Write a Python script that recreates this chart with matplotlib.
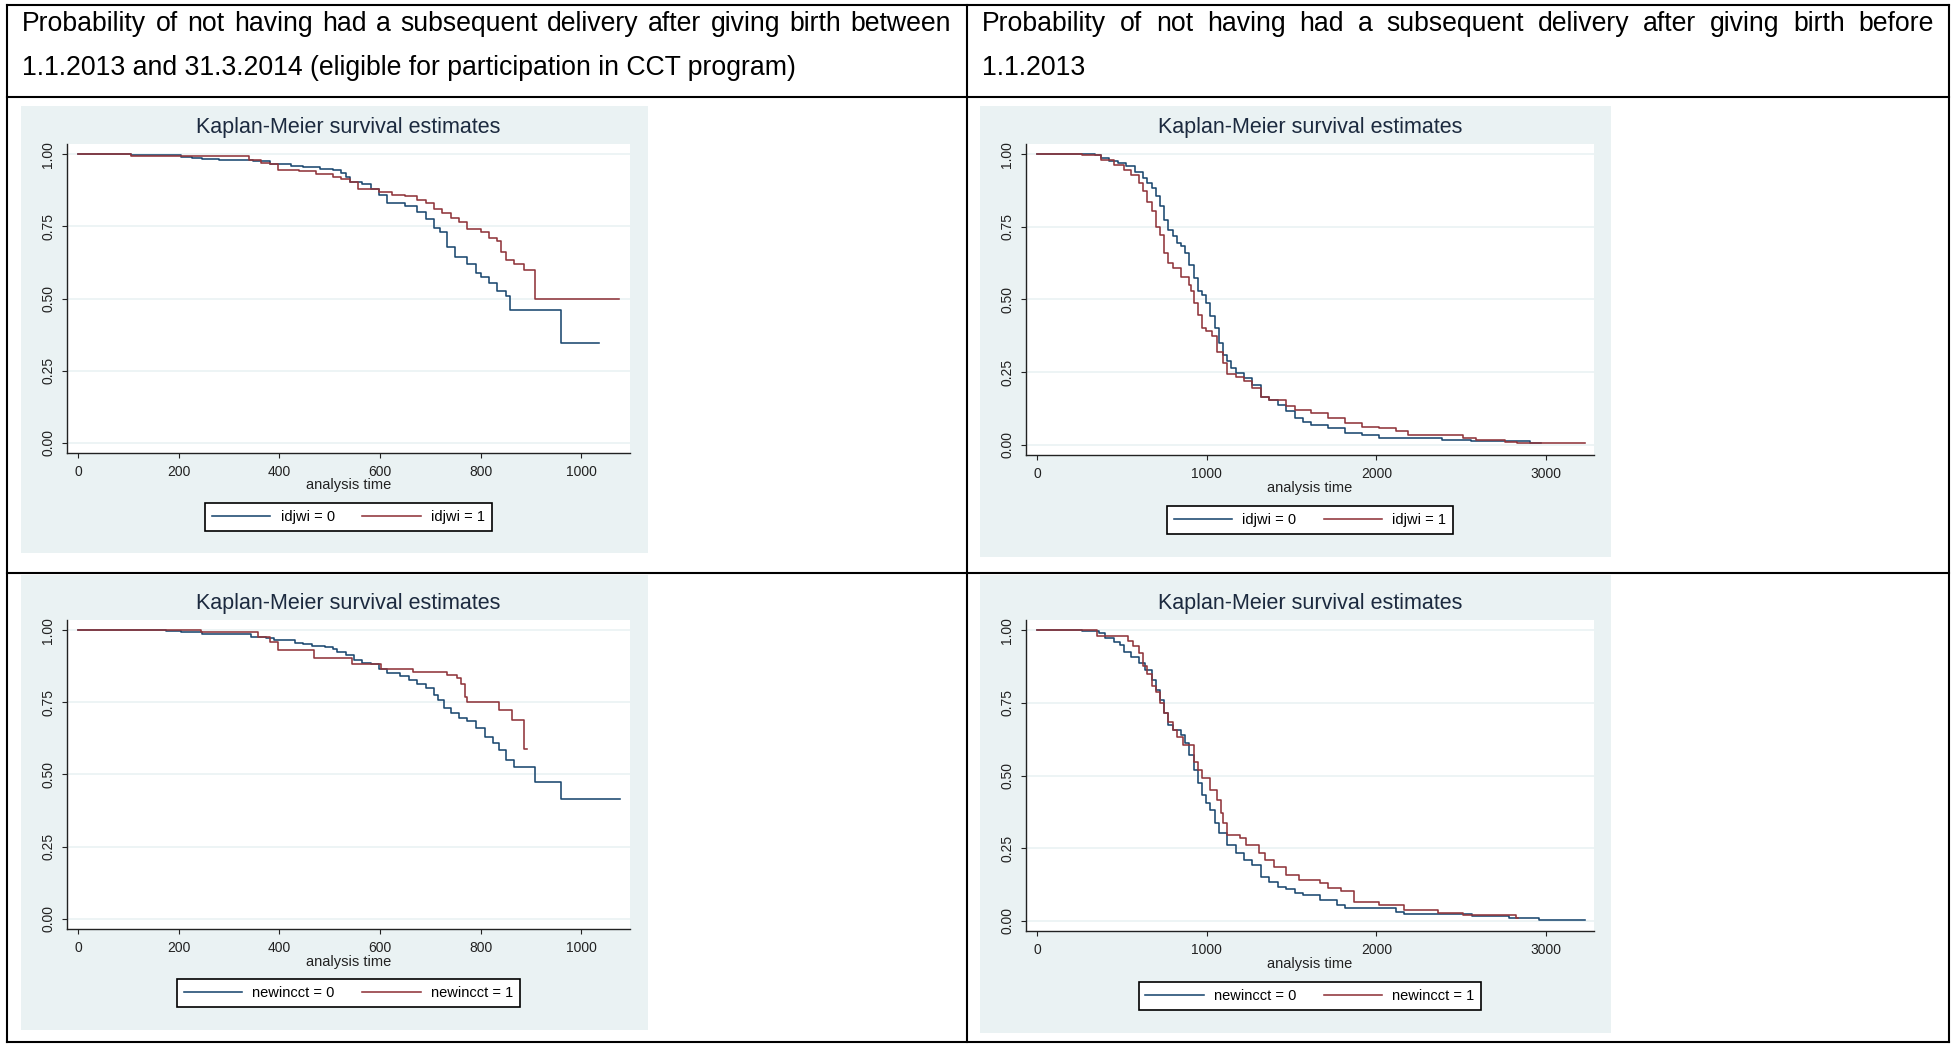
import matplotlib.pyplot as plt
from matplotlib.lines import Line2D
from matplotlib.patches import Rectangle

plt.rcParams['font.family'] = ['Liberation Sans', 'DejaVu Sans']

# Header texts of the two table columns
left_header = ["Probability of not having had a subsequent delivery after giving birth between",
               "1.1.2013 and 31.3.2014 (eligible for participation in CCT program)"]
right_header = ["Probability of not having had a subsequent delivery after giving birth before",
                "1.1.2013"]

plot_title = "Kaplan-Meier survival estimates"
x_label = "analysis time"

# Kaplan-Meier step data (time in days, survival)
# top left: idjwi, births 1.1.2013 - 31.3.2014
a_t0 = [0, 105, 205, 226, 247, 280, 347, 381, 423, 448, 481, 507, 523, 532, 540, 565, 582, 599,
        615, 649, 674, 691, 707, 720, 733, 749, 774, 791, 800, 816, 833, 850, 858, 959, 1036]
a_s0 = [1.0, .998, .99, .985, .983, .978, .975, .965, .96, .955, .95, .945, .935, .92, .905, .895,
        .88, .86, .83, .82, .80, .775, .745, .73, .68, .645, .62, .59, .575, .555, .525, .51, .46,
        .347, .347]
a_t1 = [0, 105, 339, 364, 381, 398, 440, 473, 507, 523, 540, 557, 599, 624, 649, 674, 691, 707,
        724, 741, 758, 774, 800, 816, 833, 841, 850, 867, 887, 908, 1076]
a_s1 = [1.0, .995, .98, .97, .965, .945, .94, .93, .92, .915, .905, .88, .87, .86, .855, .84, .83,
        .81, .795, .78, .765, .74, .73, .71, .70, .66, .635, .62, .60, .50, .50]

# top right: idjwi, births before 1.1.2013
b_t0 = [0, 340, 377, 427, 476, 526, 575, 625, 650, 675, 699, 724, 749, 774, 799, 823, 848, 873,
        898, 923, 947, 972, 997, 1022, 1047, 1071, 1096, 1121, 1146, 1171, 1220, 1270, 1319, 1369,
        1419, 1468, 1518, 1567, 1617, 1716, 1815, 1915, 2014, 2386, 2560, 2907, 2969]
b_s0 = [1.0, .998, .986, .975, .968, .958, .939, .917, .901, .883, .855, .82, .775, .74, .717, .694,
        .683, .659, .619, .573, .528, .516, .487, .442, .401, .35, .31, .287, .264, .247, .229, .206,
        .166, .155, .138, .115, .092, .08, .069, .057, .040, .034, .023, .017, .014, .006, .006]
b_t1 = [0, 265, 377, 451, 513, 551, 600, 625, 650, 675, 699, 724, 749, 774, 799, 848, 898, 910,
        923, 947, 972, 997, 1034, 1059, 1096, 1121, 1171, 1220, 1270, 1319, 1369, 1468, 1518, 1617,
        1716, 1815, 1915, 2014, 2113, 2188, 2510, 2585, 2758, 2832, 3229]
b_s1 = [1.0, .997, .98, .963, .946, .928, .90, .872, .837, .803, .751, .722, .659, .625, .608, .579,
        .55, .528, .488, .448, .401, .39, .373, .321, .281, .245, .234, .218, .195, .166, .155, .132,
        .12, .109, .092, .075, .063, .057, .046, .034, .023, .017, .011, .006, .006]

# bottom left: newincct, births 1.1.2013 - 31.3.2014
c_t0 = [0, 176, 205, 247, 343, 373, 389, 431, 448, 465, 490, 507, 515, 532, 548, 565, 582, 599,
        615, 640, 657, 674, 691, 707, 716, 728, 741, 758, 774, 791, 808, 825, 837, 850, 867, 908,
        959, 1078]
c_s0 = [1.0, .997, .993, .988, .977, .971, .966, .957, .951, .945, .94, .933, .925, .913, .898, .887,
        .881, .867, .85, .841, .827, .815, .798, .775, .758, .729, .712, .695, .684, .66, .631, .608,
        .585, .55, .527, .475, .415, .415]
c_t1 = [0, 245, 357, 381, 398, 469, 544, 603, 666, 733, 754, 762, 770, 774, 837, 862, 887, 892]
c_s1 = [1.0, .993, .977, .96, .931, .902, .881, .864, .856, .844, .833, .815, .77, .752, .723, .69,
        .59, .59]

# bottom right: newincct, births before 1.1.2013
d_t0 = [0, 265, 365, 402, 452, 489, 514, 551, 600, 638, 675, 700, 724, 749, 774, 799, 849, 873,
        898, 923, 948, 973, 998, 1022, 1047, 1072, 1122, 1171, 1221, 1270, 1320, 1370, 1419, 1469,
        1518, 1568, 1667, 1767, 1816, 2114, 2164, 2561, 2784, 2958, 3231]
d_s0 = [1.0, .997, .989, .972, .96, .949, .926, .907, .887, .864, .828, .794, .759, .714, .674, .657,
        .64, .611, .57, .519, .474, .434, .405, .382, .337, .301, .261, .232, .209, .192, .152, .135,
        .118, .109, .097, .089, .072, .055, .044, .032, .023, .015, .009, .003, .003]
d_t1 = [0, 352, 538, 563, 600, 625, 650, 675, 700, 724, 749, 774, 799, 824, 861, 923, 948, 973,
        1022, 1059, 1084, 1096, 1122, 1196, 1233, 1308, 1345, 1394, 1469, 1543, 1667, 1717, 1791,
        1866, 2014, 2164, 2362, 2511, 2821, 2833]
d_s1 = [1.0, .979, .963, .946, .923, .877, .849, .809, .786, .748, .714, .685, .657, .634, .605, .548,
        .519, .49, .45, .416, .37, .336, .296, .284, .261, .232, .209, .186, .158, .141, .129, .112,
        .101, .066, .055, .038, .026, .021, .009, .009]

y_ticks = [0, 0.25, 0.5, 0.75, 1.0]
y_ticklabels = ['0.00', '0.25', '0.50', '0.75', '1.00']
short_ticks = [0, 200, 400, 600, 800, 1000]
long_ticks = [0, 1000, 2000, 3000]

BLUE = '#1a476f'
RED = '#90353b'
BG = '#eaf2f3'
TITLE_C = '#1c2a3f'

W, H = 1959, 1044
fig = plt.figure(figsize=(W / 100, H / 100), dpi=100)
renderer = fig.canvas.get_renderer()


def rect(x0, y0, x1, y1):
    # pixel box (from top left) -> figure fraction
    return [x0 / W, 1 - y1 / H, (x1 - x0) / W, (y1 - y0) / H]


def hline(x0, x1, y, lw=1.5):
    fig.add_artist(Line2D([x0 / W, x1 / W], [1 - y / H, 1 - y / H], color='black', lw=lw))


def vline(x, y0, y1, lw=1.5):
    fig.add_artist(Line2D([x / W, x / W], [1 - y0 / H, 1 - y1 / H], color='black', lw=lw))


def justified(line, x0, x1, y, fs):
    words = line.split()
    texts = [fig.text(0, 1 - y / H, w, fontsize=fs, va='baseline') for w in words]
    widths = [t.get_window_extent(renderer).width for t in texts]
    gap = (x1 - x0 - sum(widths)) / (len(words) - 1)
    x = x0
    for t, w in zip(texts, widths):
        t.set_x(x / W)
        x += w + gap


# table grid
hline(7, 1949, 5)
hline(7, 1949, 97)
hline(7, 1949, 573)
hline(7, 1949, 1042)
vline(7, 5, 1042)
vline(967, 5, 1042)
vline(1949, 5, 1042)

HFS = 19.2
justified(left_header[0], 22, 951, 31, HFS)
fig.text(22 / W, 1 - 75 / H, left_header[1], fontsize=HFS, va='baseline')
justified(right_header[0], 982, 1934, 31, HFS)
fig.text(982 / W, 1 - 75 / H, right_header[1], fontsize=HFS, va='baseline')

panels = [
    # bg box, plot box, x range, ticks, curves, legend labels, title y, xlabel y, legend y
    dict(bg=(21, 106, 648, 553), box=(67, 144, 630, 453), xlim=(-21.7, 1097), xt=short_ticks,
         t0=a_t0, s0=a_s0, t1=a_t1, s1=a_s1, lab=('idjwi = 0', 'idjwi = 1'),
         ty=128, ly=485, gy=517),
    dict(bg=(980, 106, 1611, 557), box=(1026, 144, 1594, 455), xlim=(-65, 3283), xt=long_ticks,
         t0=b_t0, s0=b_s0, t1=b_t1, s1=b_s1, lab=('idjwi = 0', 'idjwi = 1'),
         ty=128, ly=488, gy=520),
    dict(bg=(21, 575, 648, 1030), box=(67, 620, 630, 929), xlim=(-21.7, 1097), xt=short_ticks,
         t0=c_t0, s0=c_s0, t1=c_t1, s1=c_s1, lab=('newincct = 0', 'newincct = 1'),
         ty=603, ly=962, gy=993),
    dict(bg=(980, 575, 1611, 1033), box=(1026, 620, 1594, 931), xlim=(-65, 3283), xt=long_ticks,
         t0=d_t0, s0=d_s0, t1=d_t1, s1=d_s1, lab=('newincct = 0', 'newincct = 1'),
         ty=603, ly=964, gy=996),
]

for p in panels:
    x0, y0, x1, y1 = p['bg']
    fig.add_artist(Rectangle((x0 / W, 1 - y1 / H), (x1 - x0) / W, (y1 - y0) / H,
                             transform=fig.transFigure, facecolor=BG, edgecolor='none', zorder=0))

    ax = fig.add_axes(rect(*p['box']))
    ax.set_facecolor('white')
    ax.step(p['t0'], p['s0'], where='post', color=BLUE, lw=1.15)
    ax.step(p['t1'], p['s1'], where='post', color=RED, lw=1.15)
    ax.set_xlim(*p['xlim'])
    ax.set_ylim(-0.035, 1.035)
    for v in y_ticks:
        ax.axhline(v, color=BG, lw=1.2, zorder=0)
    ax.set_xticks(p['xt'])
    ax.set_yticks(y_ticks)
    ax.set_yticklabels(y_ticklabels, rotation=90, va='center')
    ax.tick_params(direction='out', length=3.6, width=0.8, pad=5, labelsize=10, colors='#222222')
    for s in ['top', 'right']:
        ax.spines[s].set_visible(False)
    for s in ['left', 'bottom']:
        ax.spines[s].set_linewidth(1.0)
        ax.spines[s].set_color('#222222')

    cx = (p['box'][0] + p['box'][2]) / 2
    fig.text(cx / W, 1 - p['ty'] / H, plot_title, fontsize=15.5, color=TITLE_C,
             ha='center', va='center')
    fig.text(cx / W, 1 - p['ly'] / H, x_label, fontsize=10.5, color='#222222',
             ha='center', va='center')

    handles = [Line2D([], [], color=BLUE, lw=1.15), Line2D([], [], color=RED, lw=1.15)]
    leg = fig.legend(handles, p['lab'], loc='center', bbox_to_anchor=(cx / W, 1 - p['gy'] / H),
                     ncol=2, fontsize=10.5, frameon=True, fancybox=False, edgecolor='black',
                     framealpha=1, handlelength=4, handletextpad=0.7, columnspacing=1.9,
                     borderpad=0.45)
    leg.get_frame().set_linewidth(1.2)

fig.savefig('out.png', dpi=100, facecolor='white')
